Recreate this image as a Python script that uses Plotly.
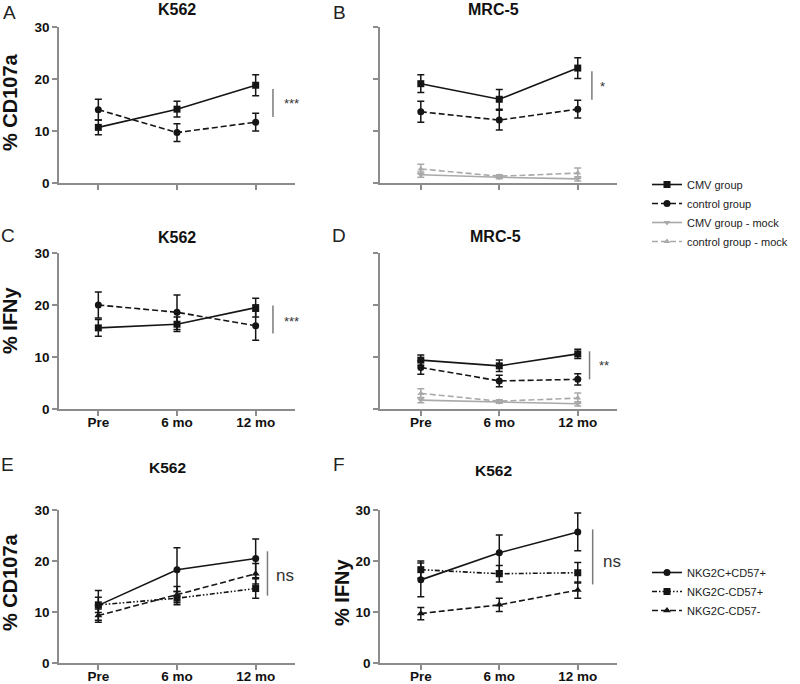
import plotly.graph_objects as go

# ---------------- data ----------------
timepoints = ["Pre", "6 mo", "12 mo"]

# Panel A: K562, % CD107a
A_cmv = [10.7, 14.2, 18.8]
A_cmv_err = [1.4, 1.5, 2.0]
A_ctrl = [14.1, 9.7, 11.7]
A_ctrl_err = [2.0, 1.7, 1.7]

# Panel B: MRC-5, % CD107a
B_cmv = [19.1, 16.1, 22.1]
B_cmv_err = [1.7, 1.9, 2.0]
B_ctrl = [13.7, 12.1, 14.2]
B_ctrl_err = [2.0, 1.9, 1.7]
B_cmv_mock = [1.6, 1.1, 0.8]
B_cmv_mock_err = [0.5, 0.3, 0.4]
B_ctrl_mock = [2.7, 1.3, 1.9]
B_ctrl_mock_err = [0.9, 0.3, 1.0]

# Panel C: K562, % IFNy
C_cmv = [15.6, 16.3, 19.5]
C_cmv_err = [1.6, 1.4, 1.8]
C_ctrl = [20.0, 18.6, 16.0]
C_ctrl_err = [2.5, 3.3, 2.8]

# Panel D: MRC-5, % IFNy
D_cmv = [9.4, 8.3, 10.6]
D_cmv_err = [1.0, 1.1, 0.9]
D_ctrl = [8.0, 5.4, 5.7]
D_ctrl_err = [1.3, 1.1, 1.1]
D_cmv_mock = [1.7, 1.4, 1.0]
D_cmv_mock_err = [0.5, 0.3, 0.4]
D_ctrl_mock = [3.0, 1.5, 2.1]
D_ctrl_mock_err = [0.9, 0.3, 1.0]

# Panel E: K562, % CD107a by subset
E_pos_pos = [11.3, 18.3, 20.5]
E_pos_pos_err = [2.9, 4.3, 3.8]
E_neg_pos = [11.4, 12.7, 14.6]
E_neg_pos_err = [1.5, 1.3, 1.9]
E_neg_neg = [9.3, 13.4, 17.5]
E_neg_neg_err = [1.3, 1.6, 2.0]

# Panel F: K562, % IFNy by subset
F_pos_pos = [16.3, 21.6, 25.7]
F_pos_pos_err = [3.3, 3.5, 3.7]
F_neg_pos = [18.3, 17.5, 17.7]
F_neg_pos_err = [1.7, 1.6, 2.0]
F_neg_neg = [9.7, 11.4, 14.3]
F_neg_neg_err = [1.2, 1.3, 1.6]

y_ticks = [0, 10, 20, 30]

# significance markers: (x of bar, y low, y high, label, x label, y label)
sig_A = (2.22, 12.7, 18.1, "***", 2.46, 15.3)
sig_B = (2.18, 16.0, 21.5, "*", 2.31, 18.6)
sig_C = (2.22, 14.5, 19.9, "***", 2.46, 16.8)
sig_D = (2.15, 5.7, 11.1, "**", 2.34, 8.3)
sig_E = (2.15, 13.2, 21.9, "ns", 2.37, 17.2)
sig_F = (2.19, 15.4, 26.2, "ns", 2.43, 19.9)

# ---------------- styling ----------------
FONT = "Liberation Sans, Arial, Helvetica, sans-serif"
BLACK = "#151515"
GRAY = "#a9a9a9"
AXIS = "#8c8c8c"
DASH = "6px,3px"
DASHDOTDOT = "5px,2px,1.5px,2px,1.5px,2px"

xs = list(range(len(timepoints)))

fig = go.Figure()


def add_series(y, err, ax, name, color, dash, symbol, legend, show, size=7):
    fig.add_trace(go.Scatter(
        x=xs, y=y, name=name, mode="lines+markers",
        xaxis="x" + ax, yaxis="y" + ax,
        line=dict(color=color, width=1.6, dash=dash),
        marker=dict(color=color, size=size, symbol=symbol),
        error_y=dict(type="data", array=err, visible=True, color=color,
                     thickness=1.5, width=3.5),
        legend=legend, showlegend=show, cliponaxis=False,
    ))


# A
add_series(A_cmv, A_cmv_err, "", "CMV group", BLACK, "solid", "square", "legend", False)
add_series(A_ctrl, A_ctrl_err, "", "control group", BLACK, DASH, "circle", "legend", False)
# B
add_series(B_cmv_mock, B_cmv_mock_err, "2", "CMV group - mock", GRAY, "solid", "triangle-down", "legend", False, 6)
add_series(B_ctrl_mock, B_ctrl_mock_err, "2", "control group - mock", GRAY, DASH, "triangle-up", "legend", False, 6)
add_series(B_cmv, B_cmv_err, "2", "CMV group", BLACK, "solid", "square", "legend", True)
add_series(B_ctrl, B_ctrl_err, "2", "control group", BLACK, DASH, "circle", "legend", True)
# C
add_series(C_cmv, C_cmv_err, "3", "CMV group", BLACK, "solid", "square", "legend", False)
add_series(C_ctrl, C_ctrl_err, "3", "control group", BLACK, DASH, "circle", "legend", False)
# D
add_series(D_cmv_mock, D_cmv_mock_err, "4", "CMV group - mock", GRAY, "solid", "triangle-down", "legend", True, 6)
add_series(D_ctrl_mock, D_ctrl_mock_err, "4", "control group - mock", GRAY, DASH, "triangle-up", "legend", True, 6)
add_series(D_cmv, D_cmv_err, "4", "CMV group", BLACK, "solid", "square", "legend", False)
add_series(D_ctrl, D_ctrl_err, "4", "control group", BLACK, DASH, "circle", "legend", False)
# E
add_series(E_pos_pos, E_pos_pos_err, "5", "NKG2C+CD57+", BLACK, "solid", "circle", "legend2", False)
add_series(E_neg_pos, E_neg_pos_err, "5", "NKG2C-CD57+", BLACK, DASHDOTDOT, "square", "legend2", False)
add_series(E_neg_neg, E_neg_neg_err, "5", "NKG2C-CD57-", BLACK, DASH, "triangle-up", "legend2", False)
# F
add_series(F_pos_pos, F_pos_pos_err, "6", "NKG2C+CD57+", BLACK, "solid", "circle", "legend2", True)
add_series(F_neg_pos, F_neg_pos_err, "6", "NKG2C-CD57+", BLACK, DASHDOTDOT, "square", "legend2", True)
add_series(F_neg_neg, F_neg_neg_err, "6", "NKG2C-CD57-", BLACK, DASH, "triangle-up", "legend2", True)

W, H = 800, 684


def px(x):
    return x / W


def py(y):
    return 1 - y / H


x_left = [px(59), px(295)]
x_right = [px(380), px(617)]
y_rows = [[py(183), py(27)], [py(409), py(253)], [py(663), py(510)]]

layout = dict(
    width=W, height=H, margin=dict(l=0, r=0, t=0, b=0, autoexpand=False),
    paper_bgcolor="white", plot_bgcolor="white",
    font=dict(family=FONT, color="#222222"),
    shapes=[], annotations=[],
)

panels = [
    ("", x_left, y_rows[0], False, True, [-0.5, 2.5]),
    ("2", x_right, y_rows[0], False, False, [-0.52, 2.5]),
    ("3", x_left, y_rows[1], True, True, [-0.5, 2.5]),
    ("4", x_right, y_rows[1], True, False, [-0.52, 2.5]),
    ("5", x_left, y_rows[2], True, True, [-0.5, 2.5]),
    ("6", x_right, y_rows[2], True, True, [-0.52, 2.5]),
]

for ax, xd, yd, showx, showy, xr in panels:
    key = ax if ax else ""
    layout["xaxis" + key] = dict(
        domain=xd, anchor="y" + key, range=xr,
        tickvals=xs, ticktext=timepoints, showticklabels=showx,
        showline=True, linecolor=AXIS, linewidth=1.5,
        ticks="outside", ticklen=5, tickwidth=1.5, tickcolor=AXIS,
        showgrid=False, zeroline=False, fixedrange=True, ticklabelstandoff=-5,
        tickfont=dict(family=FONT, size=13.5, color="#111111", weight="bold"),
    )
    layout["yaxis" + key] = dict(
        domain=yd, anchor="x" + key, range=[0, 30],
        tickvals=y_ticks, showticklabels=showy,
        showline=True, linecolor=AXIS, linewidth=1.5,
        ticks="outside", ticklen=5, tickwidth=1.5, tickcolor=AXIS,
        showgrid=False, zeroline=False, fixedrange=True,
        tickfont=dict(family=FONT, size=13.5, color="#111111", weight="bold"),
    )

# significance bars and labels
for ax, sig, fs in [("", sig_A, 13), ("2", sig_B, 13), ("3", sig_C, 13),
                    ("4", sig_D, 13), ("5", sig_E, 17), ("6", sig_F, 17)]:
    xb, y0, y1, lab, xt, yt = sig
    layout["shapes"].append(dict(
        type="line", xref="x" + ax, yref="y" + ax, x0=xb, x1=xb, y0=y0, y1=y1,
        line=dict(color="#7a7a7a", width=1.5)))
    layout["annotations"].append(dict(
        x=xt, y=yt, xref="x" + ax, yref="y" + ax, text=lab, showarrow=False,
        font=dict(family=FONT, size=fs, color="#333333"), xanchor="center", yanchor="middle"))

# panel letters
for letter, x, y in [("A", 9, 13), ("B", 339, 13), ("C", 8, 235),
                     ("D", 339, 235), ("E", 7, 464), ("F", 339, 464)]:
    layout["annotations"].append(dict(
        x=px(x), y=py(y), xref="paper", yref="paper", text=letter, showarrow=False,
        font=dict(family=FONT, size=19, color="#222222"), xanchor="center", yanchor="middle"))

# panel titles
for title, x, y, fs in [("K562", 177, 10, 16), ("MRC-5", 493, 10, 16),
                        ("K562", 177, 237, 16), ("MRC-5", 495, 236, 16),
                        ("K562", 167, 467, 15.5), ("K562", 493, 470, 15.5)]:
    layout["annotations"].append(dict(
        x=px(x), y=py(y), xref="paper", yref="paper", text="<b>%s</b>" % title,
        showarrow=False, font=dict(family=FONT, size=fs, color="#111111"),
        xanchor="center", yanchor="middle"))

# y-axis titles
for title, x, y in [("% CD107a", 10, 102), ("% IFNy", 10, 320),
                    ("% CD107a", 10, 582), ("% IFNy", 342, 592)]:
    layout["annotations"].append(dict(
        x=px(x), y=py(y), xref="paper", yref="paper", text="<b>%s</b>" % title,
        showarrow=False, textangle=-90, font=dict(family=FONT, size=20, color="#111111"),
        xanchor="center", yanchor="middle"))

layout["legend"] = dict(
    x=px(647), y=py(170), xanchor="left", yanchor="top",
    font=dict(family=FONT, size=11, color="#222222"),
    bgcolor="rgba(0,0,0,0)", traceorder="normal", tracegroupgap=0, itemwidth=30,
)
layout["legend2"] = dict(
    x=px(647), y=py(558), xanchor="left", yanchor="top",
    font=dict(family=FONT, size=11, color="#222222"),
    bgcolor="rgba(0,0,0,0)", traceorder="normal", tracegroupgap=0, itemwidth=30,
)

fig.update_layout(**layout)
fig.write_html("out.html", config={"displayModeBar": False},
               post_script="document.body.style.margin='0px';")
